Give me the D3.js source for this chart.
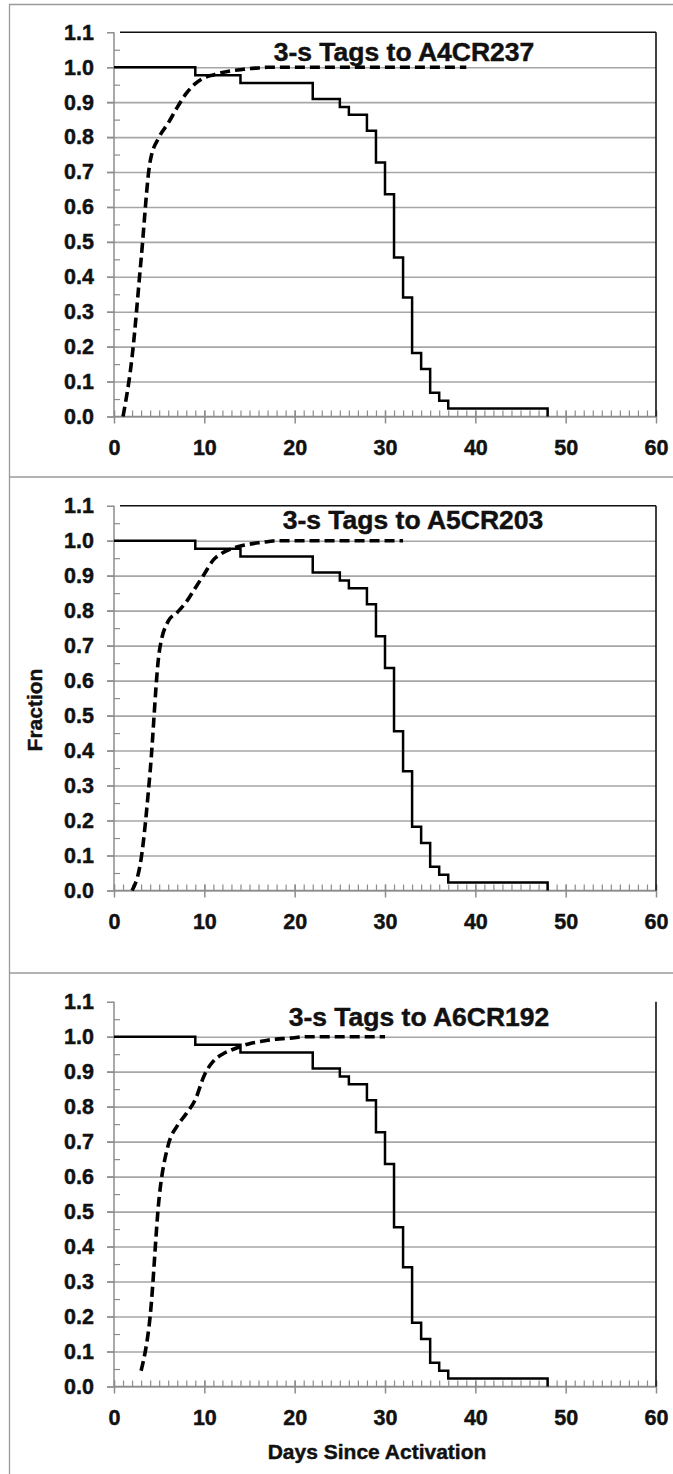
<!DOCTYPE html>
<html>
<head>
<meta charset="utf-8">
<script src="https://cdn.jsdelivr.net/npm/d3@7"></script>
<style>
  body { margin: 0; background: #fff; }
  svg { display: block; }
  text { font-family: "Liberation Sans", Arial, sans-serif; font-weight: bold; fill: #111; stroke: #111; stroke-width: 0.45px; }
</style>
</head>
<body>
<svg id="chart" width="673" height="1474"></svg>
<script>
// Fraction of tags still transmitting (same for every receiver)
const stepDays = [0, 9, 14, 22, 25, 26, 28, 29, 30, 31, 32, 33, 34, 35, 36, 37, 48];
const stepFraction = [1.000, 0.977, 0.955, 0.909, 0.886, 0.864, 0.818, 0.727, 0.636,
                      0.455, 0.341, 0.182, 0.136, 0.068, 0.045, 0.023, 0.000];

// Cumulative fraction of tags detected at each receiver
const a4Days = [1, 2, 3, 4, 5, 6, 7, 8, 9, 10, 11, 12, 13, 14, 15, 16, 17, 39];
const a4Fraction = [0.000, 0.170, 0.450, 0.730, 0.800, 0.840, 0.885, 0.925, 0.953, 0.970,
                    0.978, 0.985, 0.990, 0.993, 0.996, 0.998, 1.000, 1.000];

const a5Days = [2, 3, 4, 5, 6, 7, 8, 9, 10, 11, 12, 13, 14, 15, 16, 17, 18, 32];
const a5Fraction = [0.000, 0.090, 0.340, 0.680, 0.770, 0.795, 0.825, 0.865, 0.905, 0.945,
                    0.965, 0.977, 0.985, 0.990, 0.994, 0.997, 1.000, 1.000];

const a6Days = [3, 4, 5, 6, 7, 8, 9, 10, 11, 12, 13, 14, 15, 16, 17, 18, 19, 20, 21, 30];
const a6Fraction = [0.045, 0.200, 0.540, 0.690, 0.745, 0.780, 0.820, 0.890, 0.930, 0.950,
                    0.962, 0.972, 0.980, 0.985, 0.990, 0.993, 0.995, 0.997, 1.000, 1.000];

const panelTitles = ["3-s Tags to A4CR237", "3-s Tags to A5CR203", "3-s Tags to A6CR192"];
const xTicks = [0, 10, 20, 30, 40, 50, 60];
const yTicks = [0.0, 0.1, 0.2, 0.3, 0.4, 0.5, 0.6, 0.7, 0.8, 0.9, 1.0, 1.1];
const xTitle = "Days Since Activation";
const yTitle = "Fraction";

const arrivals = [
  { days: a4Days, fraction: a4Fraction },
  { days: a5Days, fraction: a5Fraction },
  { days: a6Days, fraction: a6Fraction }
];

// Page geometry for the three stacked panels
const layout = [
  { boxTop: 4.5,   boxBottom: 477, plotTop: 32.3,   plotBottom: 416.5,  titleX: 404, titleY: 61,   frameTop: true },
  { boxTop: 477,   boxBottom: 973, plotTop: 505.7,  plotBottom: 890.5,  titleX: 413, titleY: 529,  frameTop: true },
  { boxTop: 973,   boxBottom: 1490, plotTop: 1001.7, plotBottom: 1386.5, titleX: 419, titleY: 1026, frameTop: false }
];
const plotLeft = 114, plotRight = 656, boxLeft = 9.5;
const gridGray = "#a6a6a6", axisGray = "#8c8c8c";
const labelFont = "'Liberation Sans', Arial, sans-serif";

const svg = d3.select("#chart");
svg.append("rect").attr("width", 673).attr("height", 1474).attr("fill", "#fff");

const x = d3.scaleLinear().domain([0, 60]).range([plotLeft, plotRight]);

layout.forEach((L, i) => {
  const g = svg.append("g");
  const y = d3.scaleLinear().domain([0, 1.1]).range([L.plotBottom, L.plotTop]);

  // outer panel frame
  g.append("path")
    .attr("d", `M${boxLeft},${L.boxBottom} V${L.boxTop} H680`)
    .attr("fill", "none").attr("stroke", "#9a9a9a").attr("stroke-width", 1.3);

  // horizontal gridlines with outward major ticks
  const grid = g.append("g").attr("transform", `translate(${plotLeft},0)`)
    .call(d3.axisLeft(y).tickValues(yTicks.filter(v => v <= 1.0001))
      .tickSize(-(plotRight - plotLeft)).tickFormat(""));
  grid.select(".domain").remove();
  grid.selectAll("line").attr("stroke", gridGray).attr("stroke-width", 1.6)
    .attr("x2", plotRight - plotLeft).attr("x1", -7);

  // y axis with labels
  const ya = g.append("g").attr("transform", `translate(${plotLeft},0)`)
    .call(d3.axisLeft(y).tickValues(yTicks).tickSize(7).tickPadding(13)
      .tickFormat(d3.format(".1f")));
  ya.select(".domain").attr("stroke", axisGray).attr("stroke-width", 1.5)
    .attr("d", `M0,${L.plotTop}V${L.plotBottom}`);
  ya.selectAll("line").attr("stroke", axisGray).attr("stroke-width", 1.5);
  ya.selectAll("text").attr("font-size", 21.5).attr("fill", "#111")
    .attr("font-family", labelFont).attr("font-weight", "bold");

  // minor y ticks inside the plot
  const yMinor = g.append("g").attr("transform", `translate(${plotLeft},0)`)
    .call(d3.axisRight(y).tickValues(d3.range(0.05, 1.1, 0.1)).tickSize(6).tickFormat(""));
  yMinor.select(".domain").remove();
  yMinor.selectAll("line").attr("stroke", axisGray).attr("stroke-width", 1.2);

  // x axis: minor ticks inside, major ticks crossing, labels below
  const xMinor = g.append("g").attr("transform", `translate(0,${L.plotBottom})`)
    .call(d3.axisTop(x).tickValues(d3.range(0, 61, 1)).tickSize(6).tickFormat(""));
  xMinor.select(".domain").remove();
  xMinor.selectAll("line").attr("stroke", axisGray).attr("stroke-width", 1.2);

  const xa = g.append("g").attr("transform", `translate(0,${L.plotBottom})`)
    .call(d3.axisBottom(x).tickValues(xTicks).tickSize(7).tickPadding(16.5));
  xa.select(".domain").attr("stroke", axisGray).attr("stroke-width", 1.5)
    .attr("d", `M${plotLeft},0H${plotRight}`);
  xa.selectAll("line").attr("stroke", axisGray).attr("stroke-width", 1.5).attr("y1", -6);
  xa.selectAll("text").attr("font-size", 21.5).attr("fill", "#111")
    .attr("font-family", labelFont).attr("font-weight", "bold");

  // plot-area border (top and right)
  if (L.frameTop) {
    g.append("line").attr("x1", plotLeft + 6).attr("x2", plotRight)
      .attr("y1", y(1.1)).attr("y2", y(1.1))
      .attr("stroke", "#111").attr("stroke-width", 1.6);
  }
  g.append("line").attr("x1", plotRight).attr("x2", plotRight)
    .attr("y1", y(1.1)).attr("y2", y(0))
    .attr("stroke", "#111").attr("stroke-width", 1.6);

  // fraction still transmitting
  const stepLine = d3.line().curve(d3.curveStepAfter)
    .x((d, k) => x(stepDays[k])).y(d => y(d));
  g.append("path").datum(stepFraction)
    .attr("d", stepLine)
    .attr("fill", "none").attr("stroke", "#000").attr("stroke-width", 2.5);

  // cumulative detections at the receiver
  const arr = arrivals[i];
  const arrLine = d3.line().curve(d3.curveMonotoneX)
    .x((d, k) => x(arr.days[k])).y(d => y(d));
  g.append("path").datum(arr.fraction)
    .attr("d", arrLine)
    .attr("fill", "none").attr("stroke", "#000").attr("stroke-width", 3.6)
    .attr("stroke-dasharray", "10,5");

  // panel title
  g.append("text").attr("x", L.titleX).attr("y", L.titleY)
    .attr("text-anchor", "middle").attr("font-size", 26.5)
    .text(panelTitles[i]);
});

// shared axis titles
svg.append("text")
  .attr("transform", "translate(42,710) rotate(-90)")
  .attr("text-anchor", "middle").attr("font-size", 21)
  .text(yTitle);

svg.append("text")
  .attr("x", 377).attr("y", 1459)
  .attr("text-anchor", "middle").attr("font-size", 21)
  .text(xTitle);
</script>
</body>
</html>
